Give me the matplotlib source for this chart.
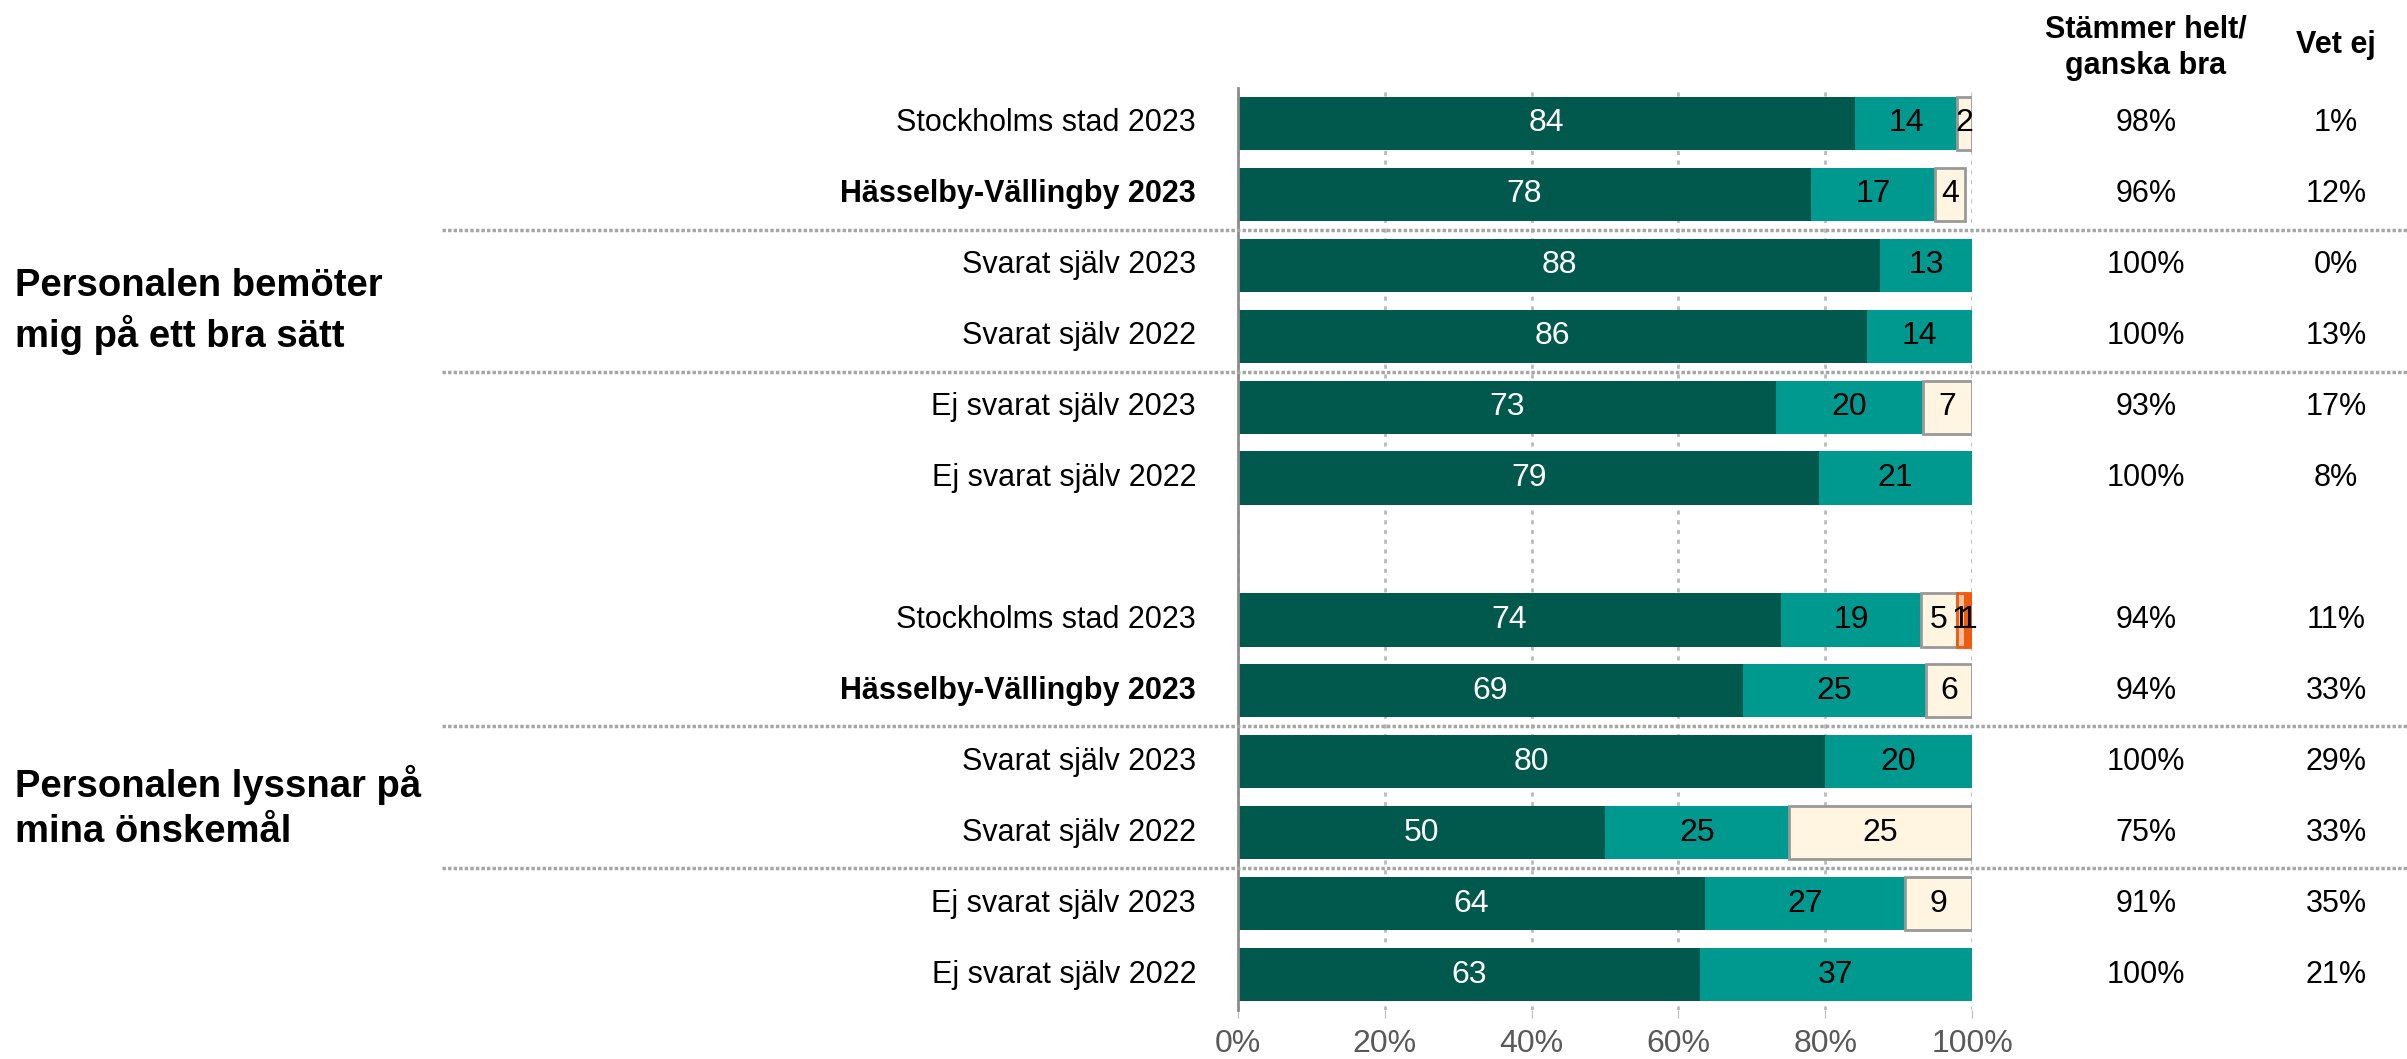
import matplotlib
matplotlib.use('Agg')
import matplotlib.pyplot as plt
from matplotlib.transforms import blended_transform_factory

plt.rcParams['font.family'] = ['Liberation Sans', 'DejaVu Sans']

# data
groups = ['Personalen bemöter\nmig på ett bra sätt', 'Personalen lyssnar på\nmina önskemål']
rows = ['Stockholms stad 2023', 'Hässelby-Vällingby 2023', 'Svarat själv 2023',
        'Svarat själv 2022', 'Ej svarat själv 2023', 'Ej svarat själv 2022']

# andel per svarsalternativ (stämmer helt, ganska bra, ganska dåligt, ganska/mycket dåligt, helt dåligt)
helt_bra = [84, 78, 87.5, 85.7, 73.3, 79.2,
            74, 68.75, 80, 50, 63.6, 62.9]
ganska_bra = [14, 17, 12.5, 14.3, 20.0, 20.8,
              19, 25, 20, 25, 27.3, 37.1]
ganska_dalig = [2, 4, 0, 0, 6.7, 0,
                5, 6.25, 0, 25, 9.1, 0]
mycket_dalig = [0, 0, 0, 0, 0, 0,
                1, 0, 0, 0, 0, 0]
inte_alls = [0, 0, 0, 0, 0, 0,
             1, 0, 0, 0, 0, 0]

stammer = ['98%', '96%', '100%', '100%', '93%', '100%',
           '94%', '94%', '100%', '75%', '91%', '100%']
vet_ej = ['1%', '12%', '0%', '13%', '17%', '8%',
          '11%', '33%', '29%', '33%', '35%', '21%']

# positioner: 6 rader, en tom rad, 6 rader
pos = [0, 1, 2, 3, 4, 5, 7, 8, 9, 10, 11, 12]

fig = plt.figure(figsize=(24.07, 10.59), dpi=100)
ax = fig.add_axes([1238 / 2407, 1 - 1010 / 1059, (1972 - 1238) / 2407, (1010 - 88) / 1059])

series = [
    (helt_bra, '#00594C', 'none', 'white'),
    (ganska_bra, '#00998F', 'none', 'black'),
    (ganska_dalig, '#FFF5E1', '#999999', 'black'),
    (mycket_dalig, '#F9C0A0', '#EE5A10', 'black'),
    (inte_alls, '#EE5A10', '#EE5A10', 'black'),
]

left = [0.0] * len(pos)
for vals, color, edge, tcolor in series:
    lw = 2 if edge != 'none' else 0
    # bara segment som finns, annars syns kanten
    pp = [p for p, v in zip(pos, vals) if v > 0]
    ll = [l for l, v in zip(left, vals) if v > 0]
    vv = [v for v in vals if v > 0]
    ax.barh(pp, vv, left=ll, height=0.75, color=color, edgecolor=edge, linewidth=lw, zorder=3)
    for p, l, v in zip(pp, ll, vv):
        ax.text(l + v / 2, p, str(int(v + 0.5)), ha='center', va='center',
                fontsize=23, color=tcolor, zorder=4)
    left = [a + b for a, b in zip(left, vals)]

ax.set_xlim(0, 100)
ax.set_ylim(12.5, -0.5)
ax.set_xticks([0, 20, 40, 60, 80, 100])
ax.set_xticklabels(['0%', '20%', '40%', '60%', '80%', '100%'])
ax.tick_params(axis='x', length=6, color='#BBBBBB', pad=8, labelsize=23, labelcolor='#595959')
ax.set_yticks([])
ax.grid(axis='x', linestyle=(0, (1.5, 2)), color='#BBBBBB', linewidth=2, zorder=0)
for s in ['top', 'right', 'bottom']:
    ax.spines[s].set_visible(False)
ax.spines['left'].set_color('#8C8C8C')
ax.spines['left'].set_linewidth(2)
ax.spines['left'].set_zorder(5)

# radetiketter och kolumner till höger
tr = blended_transform_factory(fig.transFigure, ax.transData)
for i, p in enumerate(pos):
    r = rows[i % 6]
    bold = 'bold' if r.startswith('Hässelby') else 'normal'
    ax.text(1196 / 2407, p, r, transform=tr, ha='right', va='center', fontsize=22, fontweight=bold)
    ax.text(2146 / 2407, p, stammer[i], transform=tr, ha='center', va='center', fontsize=22)
    ax.text(2336 / 2407, p, vet_ej[i], transform=tr, ha='center', va='center', fontsize=22)

fig.text(2146 / 2407, 1 - 48 / 1059, 'Stämmer helt/\nganska bra', ha='center', va='center',
         fontsize=22, fontweight='bold', linespacing=1.3)
fig.text(2336 / 2407, 1 - 45 / 1059, 'Vet ej', ha='center', va='center', fontsize=22, fontweight='bold')

# grupprubriker
ax.text(15 / 2407, 2.65, groups[0], transform=tr, ha='left', va='center', fontsize=27.5,
        fontweight='bold', linespacing=1.32)
ax.text(15 / 2407, 9.65, groups[1], transform=tr, ha='left', va='center', fontsize=27.5,
        fontweight='bold', linespacing=1.32)

# avdelare mellan undergrupper
for y in [1.5, 3.5, 8.5, 10.5]:
    ax.plot([442 / 2407, 1.0], [y, y], transform=tr, color='#A6A6A6', linewidth=2.5,
            linestyle=(0, (1, 0.6)), clip_on=False, zorder=6)

fig.savefig('out.png', dpi=100)
